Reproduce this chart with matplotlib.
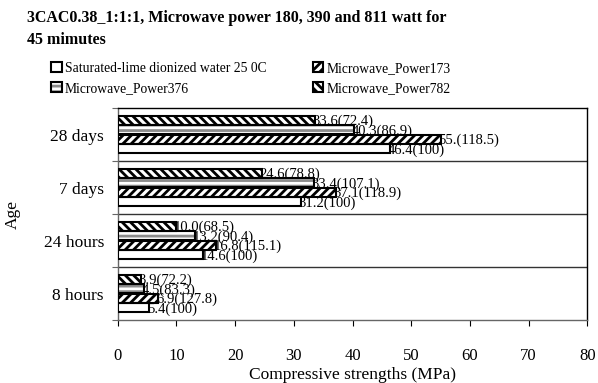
import matplotlib.pyplot as plt
from matplotlib.patches import Patch
from matplotlib.legend_handler import HandlerTuple

plt.rcParams['font.family'] = ['Liberation Serif', 'DejaVu Serif']
plt.rcParams['hatch.linewidth'] = 2.0

# data, bottom category first
ages = ["8 hours", "24 hours", "7 days", "28 days"]
series = ["Saturated-lime dionized water 25 0C", "Microwave_Power173",
          "Microwave_Power376", "Microwave_Power782"]
base = [5.4, 14.6, 31.2, 46.4]
p173 = [6.9, 16.8, 37.1, 55.0]
p376 = [4.5, 13.2, 33.4, 40.3]
p782 = [3.9, 10.0, 24.6, 33.6]
base_lbl = ["5.4(100)", "14.6(100)", "31.2(100)", "46.4(100)"]
p173_lbl = ["6.9(127.8)", "16.8(115.1)", "37.1(118.9)", "55.(118.5)"]
p376_lbl = ["4.5(83.3)", "13.2(90.4)", "33.4(107.1)", "40.3(86.9)"]
p782_lbl = ["3.9(72.2)", "10.0(68.5)", "24.6(78.8)", "33.6(72.4)"]

fig = plt.figure(figsize=(5.98, 3.83), dpi=100)
ax = fig.add_axes([0.197, 0.164, 0.785, 0.554])

styles = [
    (base, base_lbl, -0.27, "", "black"),
    (p173, p173_lbl, -0.09, "////", "black"),
    (p376, p376_lbl, 0.09, "---", "#8c8c8c"),
    (p782, p782_lbl, 0.27, "\\\\\\\\", "black"),
]
h = 0.17
handles = []
for vals, lbls, off, hatch, hc in styles:
    ys = [i + off for i in range(len(ages))]
    ax.barh(ys, vals, height=h, color="white", hatch=hatch,
            edgecolor=hc, linewidth=0, zorder=3)
    ax.barh(ys, vals, height=h, fill=False, edgecolor="black",
            linewidth=1.5, zorder=4)
    handles.append((Patch(facecolor="white", hatch=hatch, edgecolor=hc, linewidth=0),
                    Patch(fill=False, edgecolor="black", linewidth=1.5)))
    for y, v, t in zip(ys, vals, lbls):
        ax.text(v - 0.4, y - 0.02, t, va="center", ha="left", fontsize=10.5,
                zorder=2)

ax.set_xlim(0, 80)
ax.set_ylim(-0.5, 3.5)
ax.set_xticks(range(0, 81, 10))
ax.set_yticks([-0.5, 0.5, 1.5, 2.5, 3.5])
ax.set_yticklabels([])
ax.set_yticks(range(4), minor=True)
ax.set_yticklabels(ages, minor=True, fontsize=12.5)
ax.tick_params(axis="y", which="minor", length=0, pad=10)
ax.tick_params(axis="y", which="major", length=4, color="#666666")
ax.tick_params(axis="x", length=4, pad=16, labelsize=12)
for y in [0.5, 1.5, 2.5]:
    ax.axhline(y, color="#333333", linewidth=1, zorder=1)
ax.spines["left"].set_color("#666666")
ax.spines["bottom"].set_color("#666666")
for s in ax.spines.values():
    s.set_linewidth(1)

ax.set_xlabel("Compressive strengths (MPa)", fontsize=12.5, labelpad=2)
ax.set_ylabel("Age", fontsize=12.5, labelpad=16)

fig.text(0.045, 0.975, "3CAC0.38_1:1:1, Microwave power 180, 390 and 811 watt for\n45 mimutes",
         fontsize=11.5, fontweight="bold", va="top", ha="left", linespacing=1.55)

order = [0, 2, 1, 3]
fig.legend([handles[i] for i in order], [series[i] for i in order],
           handler_map={tuple: HandlerTuple(ndivide=1, pad=0)},
           ncol=2, loc="upper left", bbox_to_anchor=(0.077, 0.852),
           frameon=False, fontsize=9.8, handlelength=0.75, handleheight=0.75,
           handletextpad=0.25, columnspacing=3.4, labelspacing=0.5,
           borderaxespad=0)

fig.savefig("out.png", dpi=100)
